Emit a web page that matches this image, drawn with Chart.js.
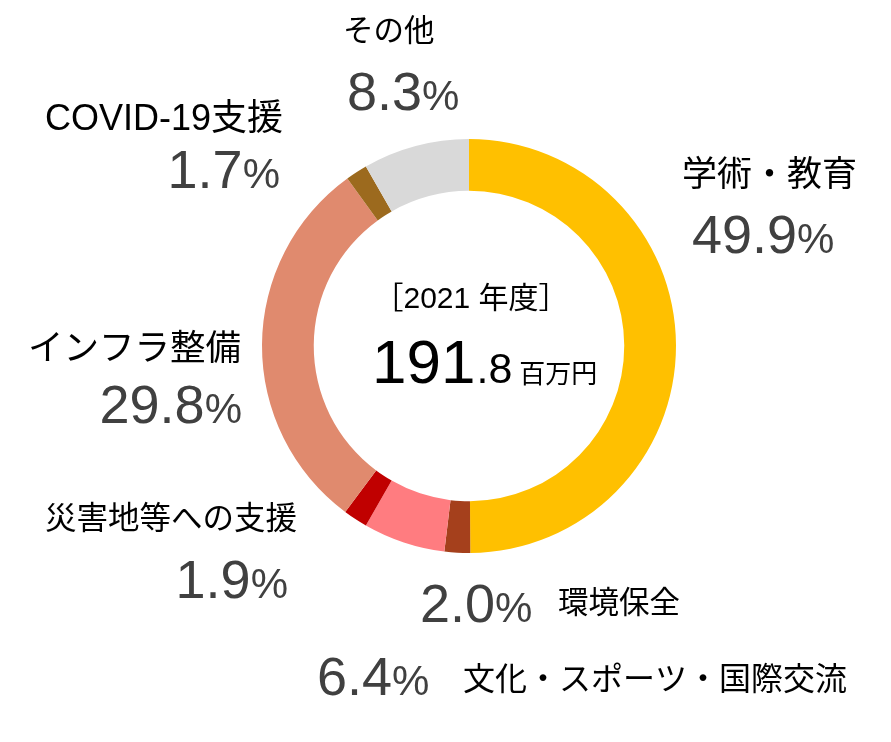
<!DOCTYPE html>
<html>
<head>
<meta charset="utf-8">
<script src="https://cdn.jsdelivr.net/npm/chart.js@4"></script>
<style>
  html, body { margin: 0; padding: 0; background: #fff; }
  #wrap { width: 891px; height: 742px; }
</style>
</head>
<body>
<div id="wrap"><canvas id="chart" width="891" height="742"></canvas></div>
<script>
const categories = ['学術・教育', '環境保全', '文化・スポーツ・国際交流', '災害地等への支援', 'インフラ整備', 'COVID-19支援', 'その他'];
const shares = [49.9, 2.0, 6.4, 1.9, 29.8, 1.7, 8.3];
const colors = ['#FFC000', '#A5401C', '#FF7C80', '#C00000', '#E08A6E', '#9C6A1E', '#D9D9D9'];
const yearLabel = '［2021 年度］';
const totalInt = '191';
const totalDec = '.8';
const totalUnit = '百万円';

// where each annotation goes: label box, percent box
const labelPos = [
  { lx: 682, ly: 176, lsize: 35, px: 692, py: 253, palign: 'left' },
  { lx: 558, ly: 605, lsize: 30.5, px: 420, py: 622, palign: 'left' },
  { lx: 463, ly: 681, lsize: 32, px: 317, py: 695, palign: 'left' },
  { lx: 45, ly: 520, lsize: 31.5, px: 288, py: 598, palign: 'right' },
  { lx: 28, ly: 350, lsize: 35.5, px: 242, py: 423, palign: 'right' },
  { lx: 45, ly: 120, lsize: 36, px: 280, py: 188, palign: 'right' },
  { lx: 343, ly: 33, lsize: 30.5, px: 347, py: 110, palign: 'left' }
];

const FONT = "'Liberation Sans', Arial, 'Noto Sans CJK JP', sans-serif";

function drawPercent(ctx, text, x, y, align) {
  ctx.textBaseline = 'alphabetic';
  ctx.textAlign = 'left';
  ctx.fillStyle = '#404040';
  const numFont = '54px ' + FONT;
  const pctFont = '42px ' + FONT;
  ctx.font = numFont;
  const w1 = ctx.measureText(text).width;
  ctx.font = pctFont;
  const w2 = ctx.measureText('%').width;
  let sx = align === 'right' ? x - w1 - w2 : x;
  ctx.font = numFont;
  ctx.fillText(text, sx, y);
  ctx.font = pctFont;
  ctx.fillText('%', sx + w1, y);
}

const annotations = {
  id: 'annotations',
  afterDraw(chart) {
    const ctx = chart.ctx;
    ctx.save();
    categories.forEach((name, i) => {
      const p = labelPos[i];
      ctx.font = p.lsize + 'px ' + FONT;
      ctx.fillStyle = '#000';
      ctx.textAlign = 'left';
      ctx.textBaseline = 'middle';
      ctx.fillText(name, p.lx, p.ly);
      drawPercent(ctx, shares[i].toFixed(1), p.px, p.py, p.palign);
    });

    // centre text
    const meta = chart.getDatasetMeta(0).data[0];
    const cx = meta.x, cy = meta.y;
    ctx.fillStyle = '#000';
    ctx.textAlign = 'center';
    ctx.textBaseline = 'middle';
    ctx.font = '30px ' + FONT;
    ctx.fillText(yearLabel, cx + 2, cy - 46);

    ctx.textAlign = 'left';
    ctx.textBaseline = 'alphabetic';
    const f1 = '62px ' + FONT, f2 = '43px ' + FONT, f3 = '26px ' + FONT;
    ctx.font = f1; const a = ctx.measureText(totalInt).width;
    ctx.font = f2; const b = ctx.measureText(totalDec).width;
    const gap = 8;
    const x = 372;
    const base = cy + 37;
    ctx.font = f1; ctx.fillText(totalInt, x, base);
    ctx.font = f2; ctx.fillText(totalDec, x + a + 1, base);
    ctx.font = f3; ctx.fillText(totalUnit, x + a + b + gap, base);
    ctx.restore();
  }
};

new Chart(document.getElementById('chart'), {
  type: 'doughnut',
  data: {
    labels: categories,
    datasets: [{
      data: shares,
      backgroundColor: colors,
      borderWidth: 0
    }]
  },
  options: {
    responsive: false,
    animation: false,
    cutout: '75%',
    layout: { padding: { top: 139, bottom: 189, left: 262, right: 215 } },
    plugins: {
      legend: { display: false },
      tooltip: { enabled: false }
    }
  },
  plugins: [annotations]
});
</script>
</body>
</html>
